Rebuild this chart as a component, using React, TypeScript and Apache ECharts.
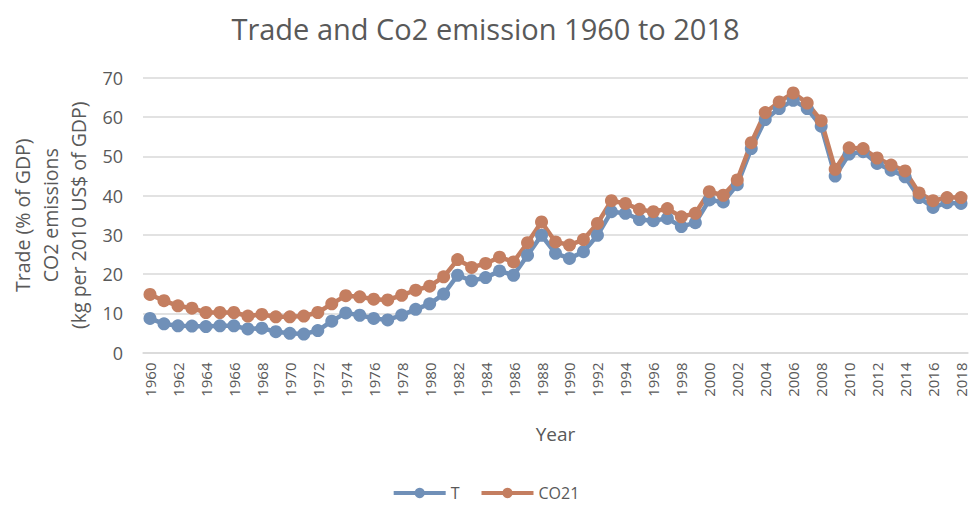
import React, { useEffect, useRef } from "react";
import * as echarts from "echarts";

const years = [
  "1960","1961","1962","1963","1964","1965","1966","1967","1968","1969",
  "1970","1971","1972","1973","1974","1975","1976","1977","1978","1979",
  "1980","1981","1982","1983","1984","1985","1986","1987","1988","1989",
  "1990","1991","1992","1993","1994","1995","1996","1997","1998","1999",
  "2000","2001","2002","2003","2004","2005","2006","2007","2008","2009",
  "2010","2011","2012","2013","2014","2015","2016","2017","2018",
];

const tradeT = [
  8.7, 7.3, 6.8, 6.75, 6.6, 6.8, 6.8, 6.0, 6.2, 5.3,
  4.9, 4.7, 5.6, 8.0, 10.1, 9.5, 8.7, 8.3, 9.55, 11.0,
  12.4, 14.9, 19.7, 18.3, 19.1, 20.8, 19.7, 24.8, 29.9, 25.3,
  24.0, 25.7, 29.9, 35.9, 35.5, 33.9, 33.6, 34.2, 32.1, 33.1,
  38.9, 38.4, 42.8, 52.0, 59.4, 62.2, 64.3, 62.2, 57.7, 45.0,
  50.6, 51.2, 48.2, 46.5, 44.8, 39.5, 37.0, 38.2, 38.0,
];

const co21 = [
  14.8, 13.2, 11.9, 11.3, 10.2, 10.2, 10.2, 9.3, 9.7, 9.1,
  9.1, 9.3, 10.2, 12.4, 14.5, 14.2, 13.6, 13.4, 14.6, 15.9,
  16.9, 19.3, 23.7, 21.7, 22.7, 24.3, 23.1, 28.0, 33.3, 28.2,
  27.4, 28.8, 32.9, 38.7, 38.0, 36.5, 35.9, 36.7, 34.6, 35.5,
  41.0, 40.1, 44.0, 53.5, 61.2, 63.9, 66.2, 63.6, 59.1, 46.7,
  52.2, 52.0, 49.6, 47.8, 46.3, 40.7, 38.7, 39.5, 39.5,
];

const titleText = "Trade and Co2 emission 1960 to 2018";
const yNameLines = ["Trade (% of GDP)", "CO2 emissions", "(kg per 2010 US$ of GDP)"];
const FONT = "'Open Sans', sans-serif";
const GRAY = "#595959";
const BLUE = "#7090b8";
const ORANGE = "#c47e60";

export default function App() {
  const ref = useRef<HTMLDivElement>(null);
  useEffect(() => {
    document.body.style.margin = "0";
    if (!ref.current) return;
    const chart = echarts.init(ref.current, undefined, { renderer: "svg" });
    const gridTop = 78;
    const gridBottom = 153.5;
    const centerY = gridTop + (506 - gridTop - gridBottom) / 2;
    chart.setOption({
      animation: false,
      backgroundColor: "#ffffff",
      textStyle: { fontFamily: FONT },
      title: {
        text: titleText,
        left: "center",
        top: 9,
        textStyle: { fontFamily: FONT, fontSize: 29, fontWeight: "normal", color: GRAY },
      },
      legend: {
        bottom: 0,
        left: "center",
        itemWidth: 52,
        itemHeight: 13,
        itemGap: 20,
        lineStyle: { width: 4 },
        textStyle: { fontFamily: FONT, fontSize: 16, color: GRAY },
        data: ["T", "CO21"],
      },
      grid: { left: 143, right: 3, top: gridTop, bottom: gridBottom },
      xAxis: {
        type: "category",
        data: years,
        boundaryGap: true,
        name: "Year",
        nameLocation: "middle",
        nameGap: 72,
        nameTextStyle: { fontFamily: FONT, fontSize: 19, color: GRAY },
        axisLine: { lineStyle: { color: "#d9d9d9", width: 1.5 } },
        axisTick: { show: false },
        axisLabel: {
          interval: 1,
          rotate: 90,
          margin: 10,
          fontFamily: FONT,
          fontSize: 15,
          color: GRAY,
        },
      },
      yAxis: {
        type: "value",
        min: 0,
        max: 70,
        interval: 10,
        axisLine: { show: false },
        axisTick: { show: false },
        splitLine: { lineStyle: { color: "#d9d9d9", width: 1.5 } },
        axisLabel: { margin: 20, fontFamily: FONT, fontSize: 18, color: GRAY },
      },
      graphic: yNameLines.map((t, i) => ({
        type: "text",
        x: 22 + i * 28,
        y: centerY,
        rotation: Math.PI / 2,
        style: {
          text: t,
          fontFamily: FONT,
          fontSize: 19.5,
          fill: GRAY,
          align: "center",
          verticalAlign: "middle",
        },
      })),
      series: [
        {
          name: "T",
          type: "line",
          data: tradeT,
          symbol: "circle",
          symbolSize: 13,
          showAllSymbol: true,
          lineStyle: { color: BLUE, width: 4.5 },
          itemStyle: { color: BLUE },
        },
        {
          name: "CO21",
          type: "line",
          data: co21,
          symbol: "circle",
          symbolSize: 13,
          showAllSymbol: true,
          lineStyle: { color: ORANGE, width: 4.5 },
          itemStyle: { color: ORANGE },
        },
      ],
    });
    return () => chart.dispose();
  }, []);
  return <div ref={ref} style={{ width: 971, height: 506 }} />;
}
